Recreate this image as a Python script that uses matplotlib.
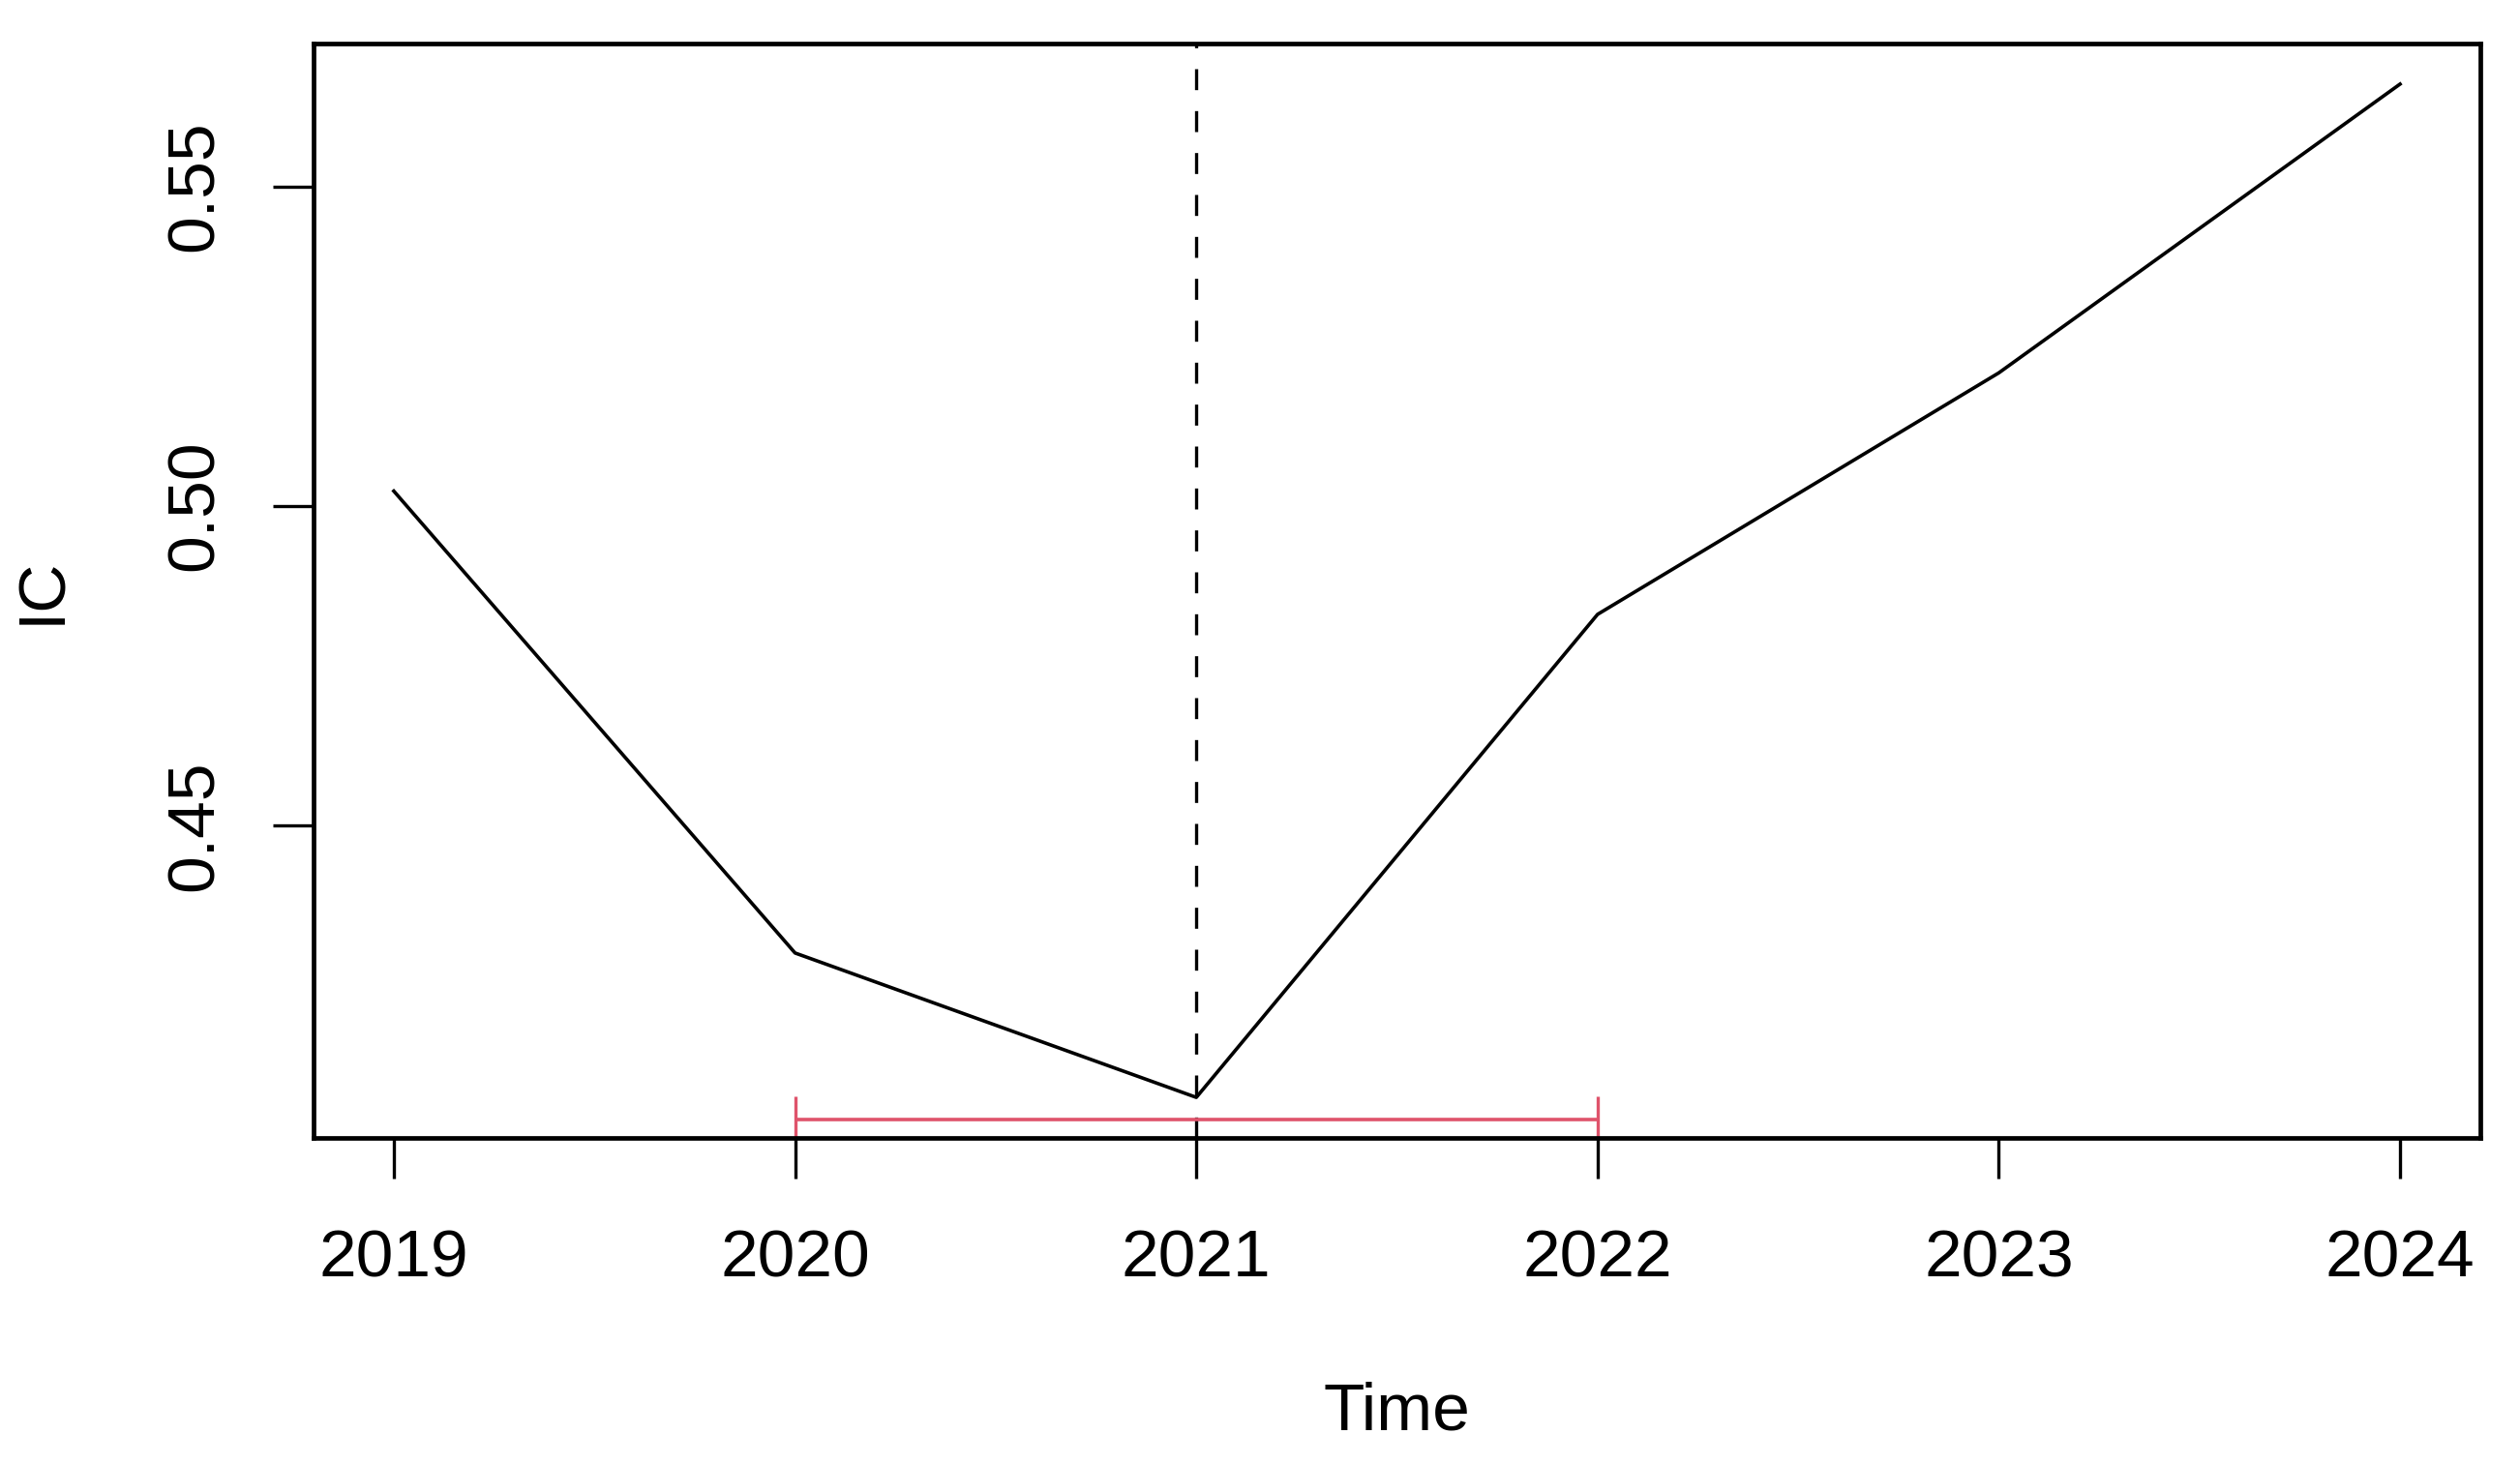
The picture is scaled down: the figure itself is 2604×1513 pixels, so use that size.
import matplotlib.pyplot as plt

plt.rcParams['font.family'] = ['Liberation Sans', 'DejaVu Sans']

# yearly IC series
years = [2019, 2020, 2021, 2022, 2023, 2024]
ic = [0.5023, 0.4300, 0.4074, 0.4830, 0.5208, 0.5660]

# breakpoint and its confidence interval
breakpoint_year = 2021
ci_lower = 2020
ci_upper = 2022
ci_level = 0.4039

yticks = [0.45, 0.50, 0.55]
ytick_labels = ['0.45', '0.50', '0.55']


def r_range(vals, frac=0.04):
    lo, hi = min(vals), max(vals)
    d = (hi - lo) * frac
    return lo - d, hi + d


fig = plt.figure(figsize=(26.04, 15.13), dpi=100)
ax = fig.add_axes([324 / 2604, 1 - 1176 / 1513, (2563 - 324) / 2604, (1176 - 45) / 1513])

ax.plot(years, ic, color='black', lw=2.6)
ax.axvline(breakpoint_year, color='black', lw=2.4, dashes=(6.5, 6.5))
ax.errorbar(breakpoint_year, ci_level,
            xerr=[[breakpoint_year - ci_lower], [ci_upper - breakpoint_year]],
            fmt='none', ecolor='#DF536B', elinewidth=2.6, capsize=17.5, capthick=2.4)

ax.set_xlim(*r_range(years))
ax.set_ylim(*r_range(ic))

ax.set_xticks(years)
ax.set_xticklabels([str(y) for y in years])
ax.set_yticks(yticks)
ax.set_yticklabels(ytick_labels, rotation=90, va='center')

for s in ax.spines.values():
    s.set_linewidth(3.4)
ax.tick_params(axis='both', length=30, width=2.4, labelsize=50, pad=37)
ax.tick_params(axis='y', pad=35)

fig.text(1443 / 2604, 1 - 1460 / 1513, 'Time', fontsize=50, ha='center', va='center')
fig.text(44 / 2604, 1 - 610 / 1513, 'IC', fontsize=50, ha='center', va='center', rotation=90)

fig.savefig('out.png', dpi=100)
